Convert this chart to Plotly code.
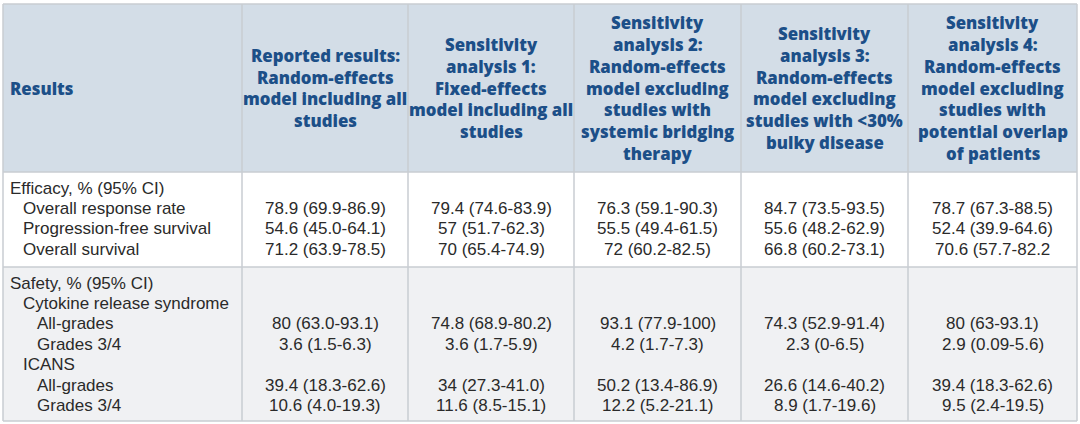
import plotly.graph_objects as go

# ---------------- data ----------------
header_first = "Results"
column_headers = [
    "Reported results:<br>Random-effects<br>model including all<br>studies",
    "Sensitivity<br>analysis 1:<br>Fixed-effects<br>model including all<br>studies",
    "Sensitivity<br>analysis 2:<br>Random-effects<br>model excluding<br>studies with<br>systemic bridging<br>therapy",
    "Sensitivity<br>analysis 3:<br>Random-effects<br>model excluding<br>studies with <30%<br>bulky disease",
    "Sensitivity<br>analysis 4:<br>Random-effects<br>model excluding<br>studies with<br>potential overlap<br>of patients",
]

efficacy_labels = ["Efficacy, % (95% CI)", "Overall response rate",
                   "Progression-free survival", "Overall survival"]
efficacy_levels = [0, 1, 1, 1]
safety_labels = ["Safety, % (95% CI)", "Cytokine release syndrome", "All-grades",
                 "Grades 3/4", "ICANS", "All-grades", "Grades 3/4"]
safety_levels = [0, 1, 2, 2, 1, 2, 2]

reported_eff = ["", "78.9 (69.9-86.9)", "54.6 (45.0-64.1)", "71.2 (63.9-78.5)"]
sens1_eff = ["", "79.4 (74.6-83.9)", "57 (51.7-62.3)", "70 (65.4-74.9)"]
sens2_eff = ["", "76.3 (59.1-90.3)", "55.5 (49.4-61.5)", "72 (60.2-82.5)"]
sens3_eff = ["", "84.7 (73.5-93.5)", "55.6 (48.2-62.9)", "66.8 (60.2-73.1)"]
sens4_eff = ["", "78.7 (67.3-88.5)", "52.4 (39.9-64.6)", "70.6 (57.7-82.2"]

reported_saf = ["", "", "80 (63.0-93.1)", "3.6 (1.5-6.3)", "", "39.4 (18.3-62.6)", "10.6 (4.0-19.3)"]
sens1_saf = ["", "", "74.8 (68.9-80.2)", "3.6 (1.7-5.9)", "", "34 (27.3-41.0)", "11.6 (8.5-15.1)"]
sens2_saf = ["", "", "93.1 (77.9-100)", "4.2 (1.7-7.3)", "", "50.2 (13.4-86.9)", "12.2 (5.2-21.1)"]
sens3_saf = ["", "", "74.3 (52.9-91.4)", "2.3 (0-6.5)", "", "26.6 (14.6-40.2)", "8.9 (1.7-19.6)"]
sens4_saf = ["", "", "80 (63-93.1)", "2.9 (0.09-5.6)", "", "39.4 (18.3-62.6)", "9.5 (2.4-19.5)"]

# ---------------- layout constants ----------------
W, H = 1080, 424
col_edges = [3, 242, 408, 574, 741, 908, 1077]
row_edges = [4, 172, 267, 421]
header_bg = "#d3dde7"
safety_bg = "#f0f1f3"
grid = "#c9cdd2"
head_color = "#1c4f88"
body_color = "#2a2a2a"
head_font = dict(family="Open Sans", size=16.8, color=head_color, weight=800)
body_font = dict(family="Liberation Sans, Arial", size=17, color=body_color)
head_line = 21.7
body_line = 20.4
body_pad = 16
indents = [8, 21, 35]

fig = go.Figure()
shapes = []
# backgrounds
shapes.append(dict(type="rect", xref="x", yref="y", x0=col_edges[0], x1=col_edges[-1],
                   y0=row_edges[0], y1=row_edges[1], fillcolor=header_bg, line_width=0, layer="below"))
shapes.append(dict(type="rect", xref="x", yref="y", x0=col_edges[0], x1=col_edges[-1],
                   y0=row_edges[2], y1=row_edges[3], fillcolor=safety_bg, line_width=0, layer="below"))
# grid lines
for y in row_edges:
    shapes.append(dict(type="line", xref="x", yref="y", x0=col_edges[0], x1=col_edges[-1],
                       y0=y, y1=y, line=dict(color=grid, width=1.5)))
for x in col_edges:
    shapes.append(dict(type="line", xref="x", yref="y", x0=x, x1=x,
                       y0=row_edges[0], y1=row_edges[-1], line=dict(color=grid, width=1.5)))

annotations = []
# header
hy = (row_edges[0] + row_edges[1]) / 2
annotations.append(dict(x=indents[0], y=hy, xref="x", yref="y", text=header_first,
                        showarrow=False, xanchor="left", yanchor="middle", font=head_font))
for ci, htxt in enumerate(column_headers):
    lines = htxt.split("<br>")
    cx = (col_edges[ci + 1] + col_edges[ci + 2]) / 2
    n = len(lines)
    for li, ln in enumerate(lines):
        y = hy + (li - (n - 1) / 2) * head_line
        annotations.append(dict(x=cx, y=y, xref="x", yref="y", text=ln.replace("<", "&lt;"),
                                showarrow=False, xanchor="center", yanchor="middle", font=head_font))

# body sections
sections = [
    (efficacy_labels, efficacy_levels, [reported_eff, sens1_eff, sens2_eff, sens3_eff, sens4_eff], row_edges[1]),
    (safety_labels, safety_levels, [reported_saf, sens1_saf, sens2_saf, sens3_saf, sens4_saf], row_edges[2]),
]
for labels, levels, cols, top in sections:
    for ri, (lab, lev) in enumerate(zip(labels, levels)):
        y = top + body_pad + ri * body_line
        annotations.append(dict(x=indents[lev], y=y, xref="x", yref="y", text=lab,
                                showarrow=False, xanchor="left", yanchor="middle", font=body_font))
        for ci, col in enumerate(cols):
            if col[ri]:
                cx = (col_edges[ci + 1] + col_edges[ci + 2]) / 2
                annotations.append(dict(x=cx, y=y, xref="x", yref="y", text=col[ri],
                                        showarrow=False, xanchor="center", yanchor="middle",
                                        font=body_font))

fig.update_layout(
    width=W, height=H, margin=dict(l=0, r=0, t=0, b=0),
    paper_bgcolor="white", plot_bgcolor="white",
    xaxis=dict(range=[0, W], visible=False, fixedrange=True),
    yaxis=dict(range=[H, 0], visible=False, fixedrange=True),
    shapes=shapes, annotations=annotations, showlegend=False,
)
fig.write_html("out.html", config={"displayModeBar": False},
               post_script="document.body.style.margin='0';document.body.style.overflow='hidden';")
